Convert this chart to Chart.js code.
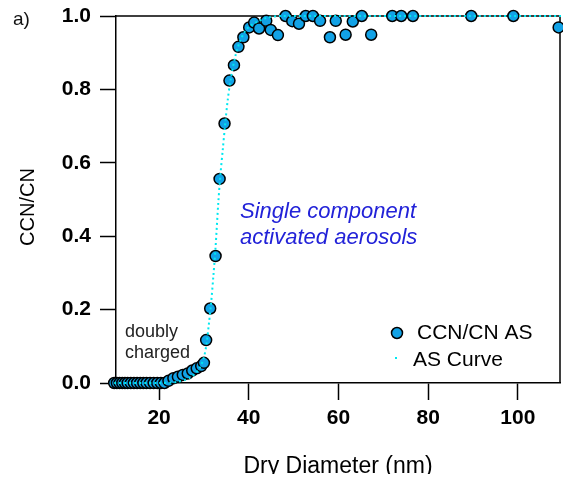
<!DOCTYPE html>
<html>
<head>
<meta charset="utf-8">
<script src="https://cdn.jsdelivr.net/npm/chart.js@4.4.0/dist/chart.umd.min.js"></script>
<style>
  html, body { margin: 0; padding: 0; background: #fff; }
  #wrap { width: 563px; height: 483px; }
</style>
</head>
<body>
<div id="wrap"><canvas id="c" width="563" height="483"></canvas></div>
<script>
// measured CCN/CN activation ratio vs dry diameter (nm)
const diam = [10, 10.6, 11.2, 11.8, 12.4, 13, 13.7, 14.4, 15.1, 15.8, 16.5, 17.2, 18, 18.8, 19.6, 20.4, 21.2,
  22.1, 23.2, 24.2, 25.3, 26.4, 27.4, 28.4, 29.4, 30.0, 30.5, 31.4, 32.6, 33.5, 34.6, 35.7, 36.7, 37.7,
  38.8, 40.1, 41.2, 42.3, 43.9, 44.9, 46.5, 48.2, 49.7, 51.2, 52.7, 54.3, 55.9, 58.1, 59.4, 61.6, 63.2,
  65.2, 67.3, 72.0, 74.0, 76.6, 89.6, 99.0, 109.1];
const ratio = [0, 0, 0, 0, 0, 0, 0, 0, 0, 0, 0, 0, 0, 0, 0, 0, 0,
  0.006, 0.013, 0.017, 0.022, 0.026, 0.034, 0.040, 0.046, 0.055, 0.117, 0.203, 0.346, 0.556, 0.707, 0.824, 0.866, 0.916,
  0.942, 0.969, 0.982, 0.966, 0.987, 0.962, 0.948, 1.0, 0.986, 0.979, 1.0, 1.0, 0.987, 0.942, 0.987, 0.949, 0.985,
  1.0, 0.949, 1.0, 1.0, 1.0, 1.0, 1.0, 0.969];

// AS fitted curve
const curveX = [10, 20, 24, 27, 29, 30, 30.6, 31.1, 31.6, 32.1, 32.6, 33.2, 33.7, 34.2, 34.7, 35.3, 36, 37, 38, 39, 40, 42, 44, 47, 60, 80, 110];
const curveY = [0, 0, 0.003, 0.015, 0.04, 0.07, 0.108, 0.16, 0.217, 0.29, 0.37, 0.49, 0.57, 0.635, 0.70, 0.77, 0.83, 0.89, 0.93, 0.955, 0.97, 0.985, 0.995, 1.0, 1.0, 1.0, 1.0];

const xTicks = [20, 40, 60, 80, 100];
const yTicks = [0, 0.2, 0.4, 0.6, 0.8, 1.0];

const MARKER = '#12a2e6';
const CURVE = '#00e8f0';
const TICK_FONT = { family: 'Arial, "Liberation Sans", sans-serif', size: 21, weight: 'bold' };

function noPad(s) { s.paddingTop = 0; s.paddingBottom = 0; s.paddingLeft = 0; s.paddingRight = 0; }

const frame = {
  id: 'frame',
  beforeDatasetsDraw(chart) {
    const { ctx, chartArea: a } = chart;
    ctx.save();
    ctx.strokeStyle = '#000';
    ctx.lineWidth = 1.5;
    ctx.beginPath();
    ctx.moveTo(a.left, a.top); ctx.lineTo(a.right, a.top); ctx.lineTo(a.right, a.bottom);
    ctx.stroke();
    ctx.restore();
  },
  afterDraw(chart) {
    const ctx = chart.ctx;
    const ff = 'Arial, "Liberation Sans", sans-serif';
    ctx.save();
    ctx.textBaseline = 'middle';
    ctx.textAlign = 'left';
    ctx.fillStyle = '#111';
    ctx.font = '19px ' + ff;
    ctx.fillText('a)', 13, 20);

    // axis titles
    ctx.fillStyle = '#000';
    ctx.font = '20px ' + ff;
    ctx.save();
    ctx.translate(28, 207);
    ctx.rotate(-Math.PI / 2);
    ctx.textAlign = 'center';
    ctx.fillText('CCN/CN', 0, 0);
    ctx.restore();
    // x title: the source figure crops the bottom of it
    ctx.save();
    ctx.beginPath();
    ctx.rect(0, 440, 563, 34);
    ctx.clip();
    ctx.textAlign = 'center';
    ctx.textBaseline = 'alphabetic';
    ctx.font = '23px ' + ff;
    ctx.fillText('Dry Diameter (nm)', 338, 473);
    ctx.restore();

    // annotations
    ctx.textAlign = 'left';
    ctx.fillStyle = '#2222d8';
    ctx.font = 'italic 22px ' + ff;
    ctx.fillText('Single component', 240, 212);
    ctx.fillText('activated aerosols', 240, 238);
    ctx.fillStyle = '#222';
    ctx.font = '18px ' + ff;
    ctx.fillText('doubly', 125, 332);
    ctx.fillText('charged', 125, 353);

    // legend
    ctx.fillStyle = '#000';
    ctx.font = '21px ' + ff;
    ctx.fillText('CCN/CN AS', 417, 333);
    ctx.fillText('AS Curve', 413, 360);
    ctx.beginPath();
    ctx.arc(397, 333, 5.5, 0, Math.PI * 2);
    ctx.fillStyle = MARKER;
    ctx.fill();
    ctx.lineWidth = 1.5;
    ctx.strokeStyle = '#000';
    ctx.stroke();
    ctx.fillStyle = CURVE;
    ctx.fillRect(395, 357, 2, 2);
    ctx.restore();
  }
};

new Chart(document.getElementById('c'), {
  type: 'scatter',
  data: {
    datasets: [
      {
        label: 'AS Curve',
        type: 'line',
        data: curveX.map((x, i) => ({ x, y: curveY[i] })),
        borderColor: CURVE, borderWidth: 2, borderDash: [2, 3],
        pointRadius: 0, tension: 0.3, fill: false, clip: false, order: 0,
      },
      {
        label: 'CCN/CN AS',
        data: diam.map((x, i) => ({ x, y: ratio[i] })),
        backgroundColor: MARKER, borderColor: '#000', borderWidth: 1.5,
        pointRadius: 5.5, clip: false, order: 1,
      },
    ]
  },
  options: {
    responsive: false, animation: false,
    layout: { autoPadding: false, padding: { top: 16, right: 3, left: 0, bottom: 0 } },
    plugins: { legend: { display: false }, tooltip: { enabled: false } },
    scales: {
      x: {
        type: 'linear', min: 10.4, max: 109.4,
        afterBuildTicks: s => { s.ticks = xTicks.map(v => ({ value: v })); },
        afterFit: s => { s.height = 100; noPad(s); },
        border: { display: true, color: '#000', width: 1.5 },
        grid: { drawOnChartArea: false, tickLength: 17, tickColor: '#000', tickWidth: 1.5 },
        ticks: { color: '#000', font: TICK_FONT, padding: 6, maxRotation: 0 },
      },
      y: {
        min: 0, max: 1,
        afterBuildTicks: s => { s.ticks = yTicks.map(v => ({ value: v })); },
        afterFit: s => { s.width = 116; noPad(s); },
        border: { display: true, color: '#000', width: 1.5 },
        grid: { drawOnChartArea: false, tickLength: 16, tickColor: '#000', tickWidth: 1.5 },
        ticks: { color: '#000', font: TICK_FONT, padding: 9, callback: v => v.toFixed(1) },
      }
    }
  },
  plugins: [frame]
});
</script>
</body>
</html>
